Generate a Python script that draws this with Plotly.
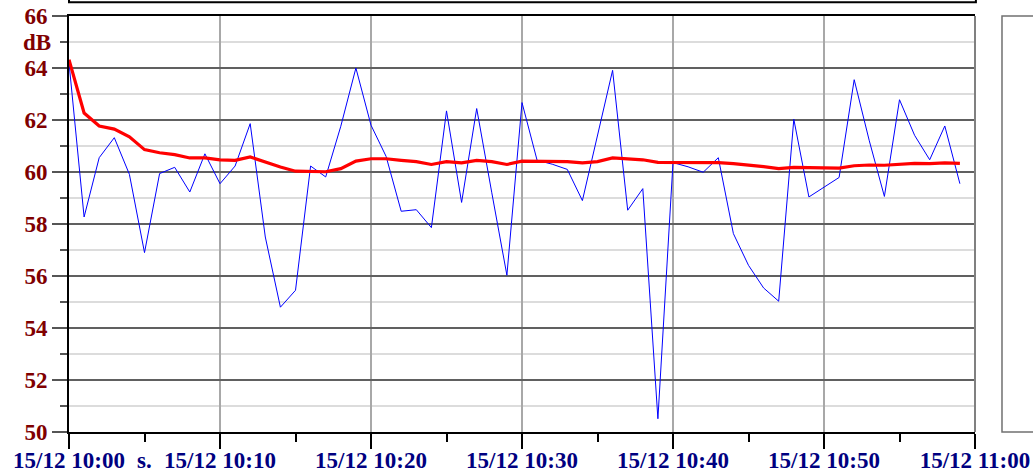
import plotly.graph_objects as go
import pandas as pd

start = "2023-12-15 10:00"
minutes = list(range(60))
times = [pd.Timestamp(start) + pd.Timedelta(minutes=m) for m in minutes]

level_db = [64.2, 58.27, 60.55, 61.32, 59.91, 56.9, 59.94, 60.18, 59.23, 60.7,
            59.55, 60.23, 61.86, 57.5, 54.8, 55.45, 60.23, 59.81, 61.76, 64.0,
            61.8, 60.6, 58.49, 58.55, 57.86, 62.35, 58.83, 62.44, 59.2, 56.03,
            62.67, 60.45, 60.3, 60.1, 58.9, 61.4, 63.91, 58.53, 59.36, 50.51,
            60.36, 60.2, 59.99, 60.55, 57.63, 56.41, 55.54, 55.03, 62.03, 59.04,
            59.42, 59.79, 63.55, 61.2, 59.06, 62.78, 61.41, 60.47, 61.77, 59.55]

leq_db = [64.32, 62.27, 61.77, 61.65, 61.35, 60.86, 60.74, 60.67, 60.54, 60.54,
          60.47, 60.45, 60.58, 60.38, 60.19, 60.03, 60.03, 60.01, 60.13, 60.42,
          60.51, 60.51, 60.45, 60.4, 60.29, 60.4, 60.35, 60.45, 60.4, 60.29,
          60.42, 60.42, 60.42, 60.4, 60.35, 60.4, 60.54, 60.5, 60.47, 60.37,
          60.37, 60.37, 60.37, 60.36, 60.32, 60.27, 60.21, 60.13, 60.18, 60.17,
          60.15, 60.15, 60.24, 60.27, 60.26, 60.31, 60.33, 60.32, 60.35, 60.33]

x_tick_vals = ["2023-12-15 10:00", "2023-12-15 10:10", "2023-12-15 10:20",
               "2023-12-15 10:30", "2023-12-15 10:40", "2023-12-15 10:50",
               "2023-12-15 11:00"]
x_tick_text = ["15/12 10:00", "15/12 10:10", "15/12 10:20", "15/12 10:30",
               "15/12 10:40", "15/12 10:50", "15/12 11:00"]
y_tick_vals = [50, 52, 54, 56, 58, 60, 62, 64, 66]
y_tick_text = ["50", "52", "54", "56", "58", "60", "62", "64", "66"]

FONT = "Times New Roman, Liberation Serif, serif"

fig = go.Figure()
fig.add_trace(go.Scatter(x=times, y=level_db, mode="lines",
                         line=dict(color="#0000ff", width=1), showlegend=False))
fig.add_trace(go.Scatter(x=times, y=leq_db, mode="lines",
                         line=dict(color="#ff0000", width=3.2), showlegend=False))

fig.update_layout(
    width=1033, height=473,
    margin=dict(l=69, r=58, t=16, b=41, autoexpand=False),
    paper_bgcolor="white", plot_bgcolor="white",
    showlegend=False,
    xaxis=dict(
        type="date", automargin=False,
        range=["2023-12-15 10:00", "2023-12-15 11:00"],
        tickmode="array", tickvals=x_tick_vals, ticktext=x_tick_text,
        ticks="outside", ticklen=15, tickwidth=1.5, tickcolor="#000000",
        ticklabelstandoff=-9, ticklabeloverflow="allow",
        showgrid=True, gridcolor="#a8a8a8", gridwidth=1.5,
        showline=True, linecolor="#000000", linewidth=2, mirror=True,
        tickfont=dict(family=FONT, size=23, color="#000080", weight="bold"),
        minor=dict(dtick=5 * 60 * 1000, ticks="outside", ticklen=8,
                   tickwidth=1.5, tickcolor="#000000", showgrid=False),
        zeroline=False,
    ),
    yaxis=dict(
        range=[50, 66], automargin=False,
        tickmode="array", tickvals=y_tick_vals, ticktext=y_tick_text,
        ticks="outside", ticklen=15, tickwidth=1.5, tickcolor="#555555",
        ticklabeloverflow="allow",
        showgrid=True, gridcolor="#606060", gridwidth=1.5,
        showline=True, linecolor="#000000", linewidth=2,
        tickfont=dict(family=FONT, size=23, color="#800000", weight="bold"),
        minor=dict(tickvals=[51, 53, 55, 57, 59, 61, 63, 65], ticks="outside",
                   ticklen=7, tickwidth=1.5, tickcolor="#555555",
                   showgrid=True, gridcolor="#dcdcdc", gridwidth=2),
        zeroline=False,
    ),
    shapes=[
        dict(type="line", xref="paper", yref="paper", x0=1, x1=1, y0=0, y1=1,
             line=dict(color="#808080", width=2)),
        dict(type="rect", xref="paper", yref="paper", x0=0, x1=1.001,
             y0=1.033, y1=1.2, line=dict(color="#000000", width=2),
             fillcolor="white"),
        dict(type="rect", xref="paper", yref="paper", x0=1.0298, x1=1.2,
             y0=0, y1=1, line=dict(color="#707070", width=1.5),
             fillcolor="white"),
    ],
    annotations=[
        dict(text="dB", xref="paper", yref="y", x=-0.0175, y=65,
             xanchor="right", yanchor="middle", showarrow=False,
             font=dict(family=FONT, size=23, color="#800000", weight="bold")),
        dict(text="s.", xref="x", yref="paper", x="2023-12-15 10:05", y=0,
             yshift=-28, xanchor="center", yanchor="middle", showarrow=False,
             font=dict(family=FONT, size=23, color="#000080", weight="bold")),
    ],
)

fig.write_html("out.html", config={"displayModeBar": False},
               post_script="document.body.style.margin='0';")
